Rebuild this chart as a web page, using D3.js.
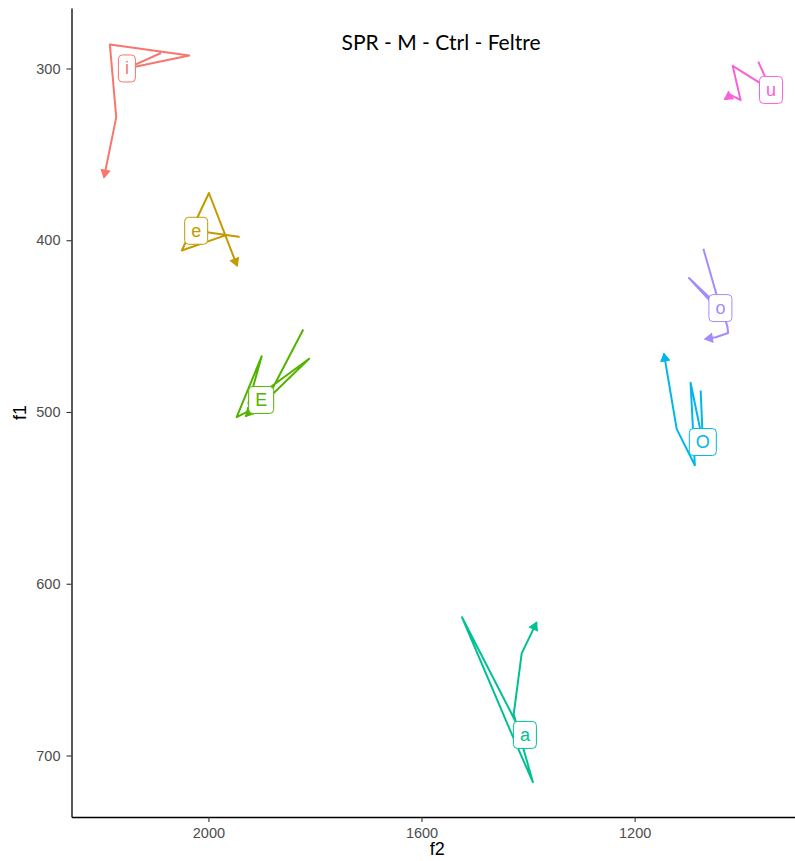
<!DOCTYPE html>
<html>
<head>
<meta charset="utf-8">
<script src="https://cdn.jsdelivr.net/npm/d3@7"></script>
<style>
  html, body { margin: 0; padding: 0; background: #fff; }
  svg { display: block; }
</style>
</head>
<body>
<svg id="chart" width="795" height="861"></svg>
<script>
// Vowel formant trajectories (F2 on x, F1 on y, both reversed)
const vowels = ["i", "e", "E", "a", "O", "o", "u"];
const colors = ["#F8766D", "#C49A00", "#53B400", "#00C094", "#00B6EB", "#A58AFF", "#FB61D7"];

// trajectory samples per vowel, in Hz
const f2_i = [2089, 2153, 2036, 2185, 2173, 2196];
const f1_i = [291, 300, 292.5, 286, 328.5, 363.5];
const f2_e = [2023, 1943, 1967, 2050, 1999, 1946];
const f1_e = [394.5, 398, 397, 406, 372.5, 415];
const f2_E = [1822, 1891, 1811, 1925, 1900, 1947, 1918, 1930];
const f1_E = [452, 493, 469, 495, 467.5, 503, 498.5, 502.5];
const f2_a = [1423, 1524, 1430, 1391, 1427, 1412, 1384];
const f1_a = [680.5, 619.5, 688, 715.5, 676, 640.5, 622.5];
const f2_O = [1076, 1072, 1095, 1087, 1121, 1145];
const f1_O = [487.5, 517.5, 483, 531, 510, 466];
const f2_o = [1071, 1039, 1098, 1032.5, 1026, 1024.5, 1047.5, 1068];
const f1_o = [405, 439.5, 422, 444, 450, 454, 456.5, 457.5];
const f2_u = [968, 944, 1016, 1001, 1019, 1031];
const f1_u = [296, 312.5, 298.5, 318.5, 315.5, 318];

// label anchor per vowel
const labelF2 = [2153, 2023, 1901, 1406, 1072, 1039, 944];
const labelF1 = [300, 394.5, 493, 688, 517.5, 439.5, 312.5];

const xTicks = [2000, 1600, 1200];
const yTicks = [300, 400, 500, 600, 700];
const titleText = "SPR - M - Ctrl - Feltre";

const f2Series = [f2_i, f2_e, f2_E, f2_a, f2_O, f2_o, f2_u];
const f1Series = [f1_i, f1_e, f1_E, f1_a, f1_O, f1_o, f1_u];

const svg = d3.select("#chart");
const panel = { left: 71.5, top: 8, right: 795, bottom: 817 };

const x = d3.scaleLinear().domain([2257, 899]).range([panel.left, panel.right]);
const y = d3.scaleLinear().domain([264.8, 735.8]).range([panel.top, panel.bottom]);

// axes
const fmt = d3.format("d");
const xAxis = svg.append("g")
  .attr("transform", `translate(0,${panel.bottom})`)
  .call(d3.axisBottom(x).tickValues(xTicks).tickFormat(fmt).tickSize(5).tickPadding(6).tickSizeOuter(0));
const yAxis = svg.append("g")
  .attr("transform", `translate(${panel.left},0)`)
  .call(d3.axisLeft(y).tickValues(yTicks).tickFormat(fmt).tickSize(5).tickPadding(6).tickSizeOuter(0));

[xAxis, yAxis].forEach(g => {
  g.select(".domain").attr("stroke", "#000").attr("stroke-width", 1.3);
  g.selectAll(".tick line").attr("stroke", "#333").attr("stroke-width", 1.1);
  g.selectAll(".tick text")
    .attr("fill", "#4D4D4D")
    .style("font-family", "'Liberation Sans', Arial, sans-serif")
    .style("font-size", "14.5px");
});

svg.append("text")
  .attr("x", (panel.left + panel.right) / 2 + 4)
  .attr("y", 855)
  .attr("text-anchor", "middle")
  .style("font-family", "'Liberation Sans', Arial, sans-serif")
  .style("font-size", "18px")
  .attr("fill", "#000")
  .text("f2");

svg.append("text")
  .attr("transform", `translate(26,${(panel.top + panel.bottom) / 2}) rotate(-90)`)
  .attr("text-anchor", "middle")
  .style("font-family", "'Liberation Sans', Arial, sans-serif")
  .style("font-size", "18px")
  .attr("fill", "#000")
  .text("f1");

// title
svg.append("text")
  .attr("x", 441)
  .attr("y", 50)
  .attr("text-anchor", "middle")
  .style("font-family", "Lato, 'Open Sans', sans-serif")
  .style("font-size", "21px")
  .attr("fill", "#000")
  .text(titleText);

// trajectories
const line = d3.line().x(d => x(d[0])).y(d => y(d[1]));
const gLines = svg.append("g");
vowels.forEach((v, k) => {
  const pts = f2Series[k].map((f2, j) => [f2, f1Series[k][j]]);
  gLines.append("path")
    .attr("d", line(pts))
    .attr("fill", "none")
    .attr("stroke", colors[k])
    .attr("stroke-width", 2)
    .attr("stroke-linejoin", "round")
    .attr("stroke-linecap", "butt");
  // closed arrowhead at the final sample
  const n = pts.length;
  const x1 = x(pts[n - 2][0]), y1 = y(pts[n - 2][1]);
  const x2 = x(pts[n - 1][0]), y2 = y(pts[n - 1][1]);
  const ang = Math.atan2(y2 - y1, x2 - x1);
  const len = 8.5, spread = Math.PI / 6;
  const a1 = [x2 - len * Math.cos(ang - spread), y2 - len * Math.sin(ang - spread)];
  const a2 = [x2 - len * Math.cos(ang + spread), y2 - len * Math.sin(ang + spread)];
  gLines.append("path")
    .attr("d", `M${x2},${y2}L${a1[0]},${a1[1]}L${a2[0]},${a2[1]}Z`)
    .attr("fill", colors[k])
    .attr("stroke", colors[k])
    .attr("stroke-width", 1.2)
    .attr("stroke-linejoin", "miter");
});

// vowel labels
const gLabels = svg.append("g");
vowels.forEach((v, k) => {
  const cx = x(labelF2[k]), cy = y(labelF1[k]);
  const g = gLabels.append("g");
  const rect = g.append("rect");
  const t = g.append("text")
    .attr("x", cx)
    .attr("y", cy)
    .attr("text-anchor", "middle")
    .attr("dominant-baseline", "central")
    .style("font-family", "'Liberation Sans', Arial, sans-serif")
    .style("font-size", "18px")
    .attr("fill", colors[k])
    .text(v);
  const bw = t.node().getComputedTextLength() + 13;
  const bh = 27;
  rect.attr("x", cx - bw / 2).attr("y", cy - bh / 2)
    .attr("width", bw).attr("height", bh)
    .attr("rx", 4).attr("ry", 4)
    .attr("fill", "#fff")
    .attr("stroke", colors[k])
    .attr("stroke-width", 1);
});
</script>
</body>
</html>
